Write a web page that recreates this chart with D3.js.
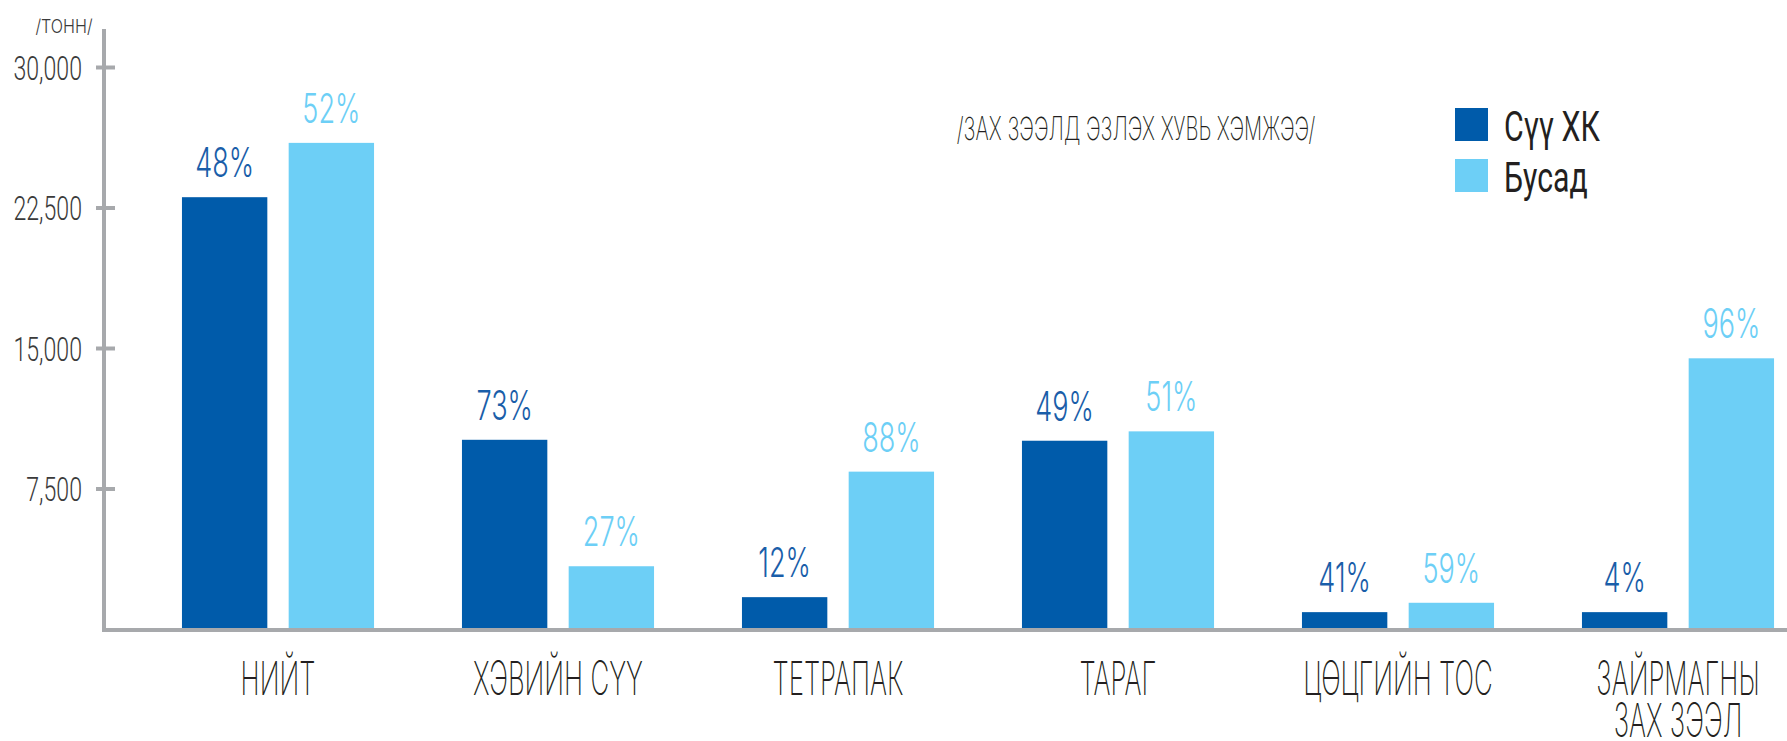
<!DOCTYPE html>
<html>
<head>
<meta charset="utf-8">
<script src="https://cdn.jsdelivr.net/npm/d3@7"></script>
<style>
  body { margin: 0; background: #fff; }
  text { font-family: Roboto, "Open Sans", sans-serif; }
  .thin { font-family: Inter, Roboto, sans-serif; }
</style>
</head>
<body>
<div id="chart"></div>
<script>
// data (tonnes)
var categories = ["НИЙТ", "ХЭВИЙН СҮҮ", "ТЕТРАПАК", "ТАРАГ", "ЦӨЦГИЙН ТОС", "ЗАЙРМАГНЫ|ЗАХ ЗЭЭЛ"];
var seriesNames = ["Сүү ХК", "Бусад"];
var suuValues = [23050, 10100, 1700, 10050, 900, 900];
var otherValues = [25950, 3350, 8400, 10550, 1400, 14450];
var suuPct = ["48%", "73%", "12%", "49%", "41%", "4%"];
var otherPct = ["52%", "27%", "88%", "51%", "59%", "96%"];
var yTicks = [7500, 15000, 22500, 30000];

var colors = ["#005baa", "#6dcff6"];
var labelColors = ["#1a5ea9", "#6dcff6"];

var width = 1787, height = 741;
var baseY = 629, topY = 67, axisX = 104;

var svg = d3.select("#chart")
    .append("svg")
    .attr("width", width)
    .attr("height", height);

var y = d3.scaleLinear()
    .domain([0, 30000])
    .range([baseY, topY]);

var x0 = d3.scaleBand()
    .domain(categories)
    .range([138, 1818])
    .paddingInner(0.314)
    .paddingOuter(0.157);

var x1 = d3.scaleBand()
    .domain(seriesNames)
    .range([0, x0.bandwidth()])
    .paddingInner(0.2);

// table built from the arrays
var rows = categories.map(function (c, i) {
    return [
        { cat: c, series: seriesNames[0], value: suuValues[i], pct: suuPct[i], k: 0 },
        { cat: c, series: seriesNames[1], value: otherValues[i], pct: otherPct[i], k: 1 }
    ];
});
var flat = [].concat.apply([], rows);

// bars
svg.append("g")
    .selectAll("rect")
    .data(flat)
    .enter()
    .append("rect")
    .attr("x", function (d) { return x0(d.cat) + x1(d.series); })
    .attr("y", function (d) { return y(d.value); })
    .attr("width", x1.bandwidth())
    .attr("height", function (d) { return y(0) - y(d.value); })
    .attr("fill", function (d) { return colors[d.k]; });

// percentage labels
svg.append("g")
    .selectAll("text")
    .data(flat)
    .enter()
    .append("text")
    .attr("class", "thin")
    .attr("transform", function (d) {
        var cx = x0(d.cat) + x1(d.series) + x1.bandwidth() / 2;
        return "translate(" + cx + "," + (y(d.value) - 20) + ") scale(0.66,1)";
    })
    .attr("text-anchor", "middle")
    .attr("font-size", 41)
    .attr("font-weight", 300)
    .attr("fill", function (d) { return labelColors[d.k]; })
    .text(function (d) { return d.pct; });

// y axis
var yAxis = d3.axisLeft(y).tickValues(yTicks).tickSize(0).tickFormat(d3.format(","));
var yAxisGroup = svg.append("g")
    .attr("class", "y axis")
    .attr("transform", "translate(" + axisX + ",0)")
    .call(yAxis);
yAxisGroup.select(".domain").remove();
yAxisGroup.selectAll(".tick line")
    .attr("x1", -8)
    .attr("x2", 11)
    .attr("stroke", "#a7a9ac")
    .attr("stroke-width", 4);
yAxisGroup.selectAll(".tick text")
    .attr("x", 0)
    .attr("dy", "0.36em")
    .attr("transform", "translate(-22,0) scale(0.68,1)")
    .attr("font-size", 34)
    .attr("font-weight", 300)
    .attr("fill", "#3a3a3a")
    .attr("font-family", "Inter, Roboto, sans-serif");

svg.append("line")
    .attr("x1", axisX).attr("x2", axisX)
    .attr("y1", y(30000) - 38).attr("y2", y(0) + 3)
    .attr("stroke", "#a7a9ac")
    .attr("stroke-width", 4);

svg.append("line")
    .attr("x1", axisX - 2).attr("x2", width)
    .attr("y1", y(0) + 1).attr("y2", y(0) + 1)
    .attr("stroke", "#a7a9ac")
    .attr("stroke-width", 4);

// unit label
svg.append("text")
    .attr("class", "thin")
    .attr("transform", "translate(64,33) scale(0.85,1)")
    .attr("text-anchor", "middle")
    .attr("font-size", 19)
    .attr("font-weight", 300)
    .attr("fill", "#3a3a3a")
    .text("/ТОНН/");

// category labels
var catLabels = svg.append("g")
    .selectAll("text")
    .data(categories)
    .enter()
    .append("text")
    .attr("class", "thin")
    .attr("transform", function (d) {
        return "translate(" + (x0(d) + x0.bandwidth() / 2) + ",695) scale(0.55,1)";
    })
    .attr("text-anchor", "middle")
    .attr("font-size", 47)
    .attr("font-weight", 200)
    .attr("fill", "#231f20");

catLabels.selectAll("tspan")
    .data(function (d) { return d.split("|"); })
    .enter()
    .append("tspan")
    .attr("x", 0)
    .attr("dy", function (d, i) { return i === 0 ? 0 : 42; })
    .text(function (d) { return d; });

// note
svg.append("text")
    .attr("class", "thin")
    .attr("transform", "translate(1136,140) scale(0.63,1)")
    .attr("text-anchor", "middle")
    .attr("font-size", 32)
    .attr("font-weight", 200)
    .attr("fill", "#231f20")
    .text("/ЗАХ ЗЭЭЛД ЭЗЛЭХ ХУВЬ ХЭМЖЭЭ/");

// legend
var legend = svg.append("g")
    .attr("class", "legends")
    .attr("transform", "translate(1455,108)");

legend.selectAll("rect")
    .data(seriesNames)
    .enter()
    .append("rect")
    .attr("x", 0)
    .attr("y", function (d, i) { return i * 51; })
    .attr("width", 33)
    .attr("height", 33)
    .attr("fill", function (d, i) { return colors[i]; });

legend.selectAll("text")
    .data(seriesNames)
    .enter()
    .append("text")
    .attr("transform", function (d, i) { return "translate(49," + (33 + i * 51) + ") scale(0.72,1)"; })
    .attr("font-size", 42)
    .attr("fill", "#231f20")
    .text(function (d) { return d; });
</script>
</body>
</html>
